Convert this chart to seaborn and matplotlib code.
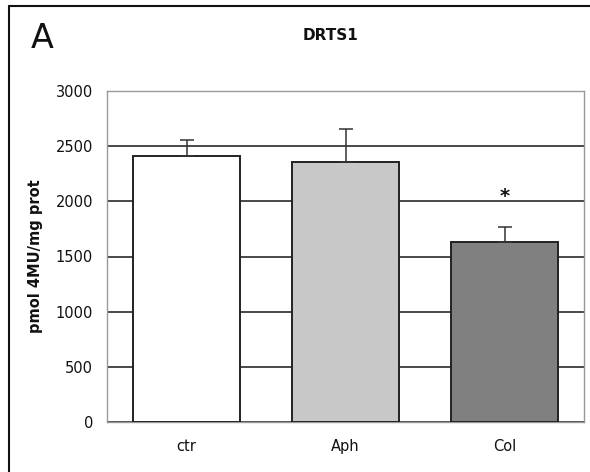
import seaborn as sns
import matplotlib.pyplot as plt
import numpy as np
import pandas as pd
from matplotlib.lines import Line2D

# data
groups = ["ctr", "Aph", "Col"]
means = [2410, 2355, 1630]
sems = [150, 305, 140]
bar_colors = ["#ffffff", "#c8c8c8", "#808080"]
sig_marks = ["", "", "*"]

sns.set_style("white")
plt.rcParams['font.family'] = ['DejaVu Sans']
plt.rcParams['text.color'] = "#111111"
plt.rcParams['xtick.color'] = "#111111"
plt.rcParams['ytick.color'] = "#111111"

fig = plt.figure(figsize=(5.9, 4.72), dpi=100)
ax = fig.add_axes([107 / 590, 1 - 422 / 472, 477 / 590, 331 / 472])

df = pd.DataFrame({"group": groups, "value": means})
sns.barplot(data=df, x="group", y="value", hue="group", palette=bar_colors,
            width=0.667, edgecolor="#222222", linewidth=1.4, legend=False,
            ax=ax, zorder=3)

# upward-only error bars
xs = np.arange(len(groups))
ax.errorbar(xs, means, yerr=[np.zeros(len(sems)), sems], fmt="none",
            ecolor="#333333", elinewidth=1.1, capsize=5, capthick=1.1, zorder=4)

for x, m, s, mark in zip(xs, means, sems, sig_marks):
    if mark:
        ax.text(x, m + s + 190, mark, ha="center", va="bottom",
                fontsize=14, fontweight="bold", color="#111111")

ax.set_ylim(0, 3000)
ax.set_xlim(-0.5, 2.5)
ax.set_yticks(np.arange(0, 3001, 500))
ax.yaxis.grid(True, color="#3a3a3a", linewidth=1.3, zorder=0)
ax.set_axisbelow(True)

for sp in ax.spines.values():
    sp.set_color("#999999")
    sp.set_linewidth(1.0)
    sp.set_visible(True)

ax.tick_params(axis="y", length=4, color="#999999", labelsize=10.5, pad=6,
               labelcolor="#111111")
ax.tick_params(axis="x", length=0, labelsize=10.5, pad=12, labelcolor="#111111")
ax.set_xticks([0.5, 1.5], minor=True)
ax.tick_params(axis="x", which="minor", length=4, color="#999999", direction="out")

ax.set_xlabel("")
ax.set_ylabel("pmol 4MU/mg prot", fontsize=10.5, fontweight="bold", labelpad=9,
              color="#111111")

fig.text(330 / 590, 1 - 35 / 472, "DRTS1", ha="center", va="center",
         fontsize=11, fontweight="bold")
fig.text(31 / 590, 1 - 39 / 472, "A", ha="left", va="center", fontsize=24)

# outer panel frame
fig.add_artist(Line2D([9 / 590, 1.0], [1 - 6 / 472, 1 - 6 / 472],
                      transform=fig.transFigure, color="#111111", linewidth=1.5))
fig.add_artist(Line2D([9 / 590, 9 / 590], [0.0, 1 - 6 / 472],
                      transform=fig.transFigure, color="#111111", linewidth=1.5))

fig.savefig("out.png", dpi=100)
